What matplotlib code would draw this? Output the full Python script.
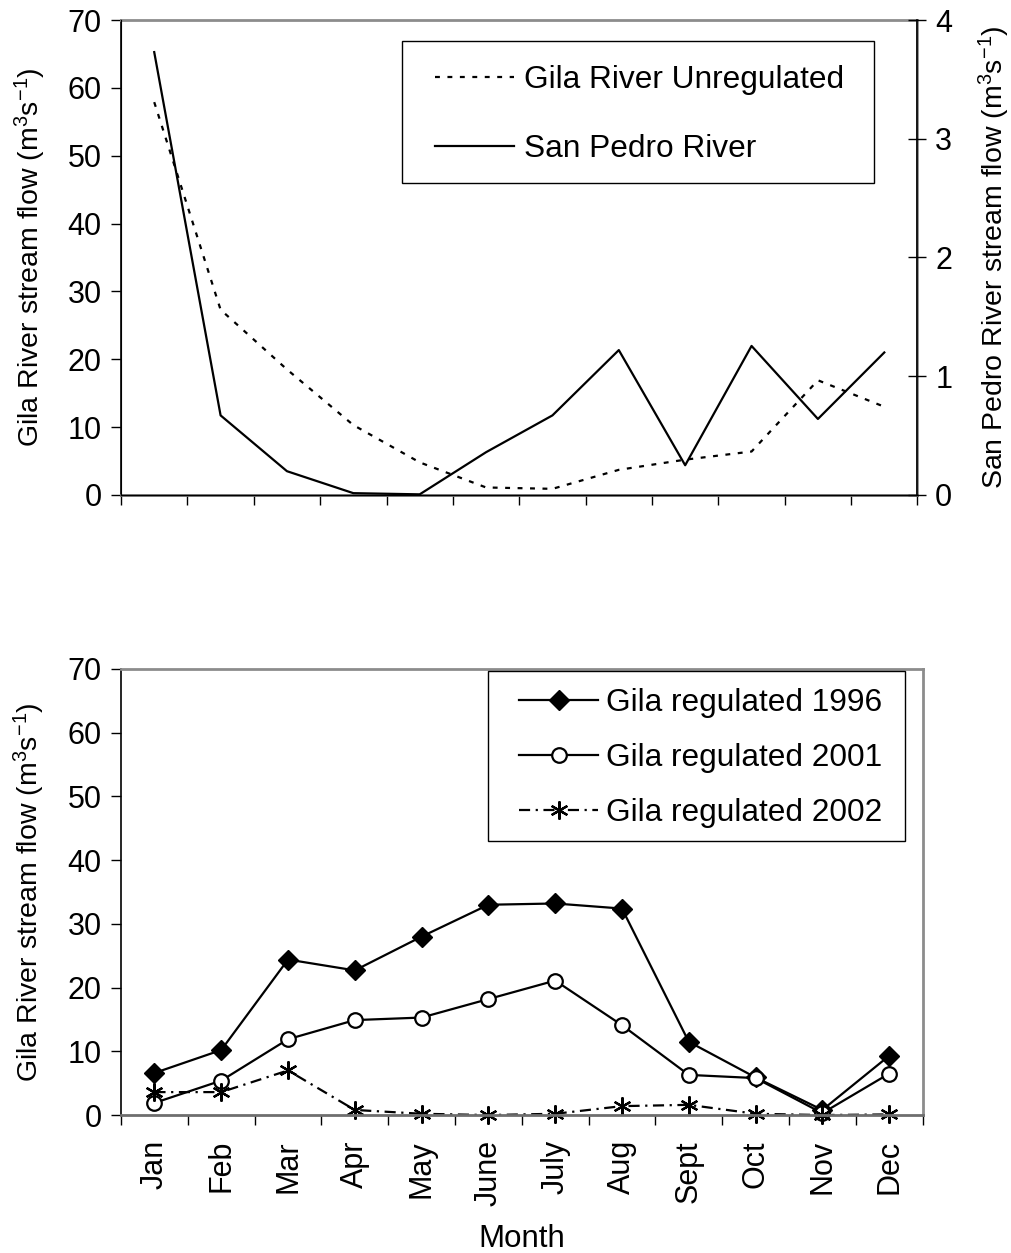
import matplotlib
matplotlib.use('Agg')
import matplotlib.pyplot as plt
import numpy as np
from matplotlib.patches import Rectangle

plt.rcParams['font.family'] = ['Liberation Sans', 'DejaVu Sans']
plt.rcParams['mathtext.default'] = 'regular'

months = ['Jan', 'Feb', 'Mar', 'Apr', 'May', 'June', 'July', 'Aug', 'Sept', 'Oct', 'Nov', 'Dec']

# top panel: unregulated Gila (left axis) and San Pedro (right axis)
gila_unreg = [57.9, 27.3, 18.5, 10.3, 4.8, 1.1, 0.9, 3.7, 5.2, 6.4, 16.9, 13.0]
san_pedro = [3.73, 0.67, 0.20, 0.015, 0.005, 0.36, 0.67, 1.22, 0.25, 1.255, 0.64, 1.20]

# bottom panel: regulated Gila
gila_1996 = [6.6, 10.2, 24.4, 22.7, 28.0, 33.0, 33.2, 32.4, 11.5, 5.9, 0.8, 9.3]
gila_2001 = [1.9, 5.4, 11.9, 14.9, 15.3, 18.2, 21.1, 14.1, 6.3, 5.8, 0.3, 6.5]
gila_2002 = [3.6, 3.6, 7.0, 0.8, 0.2, 0.0, 0.2, 1.4, 1.6, 0.2, 0.0, 0.1]

x = np.arange(len(months))
edges = np.arange(len(months) + 1) - 0.5

tick_fs = 22
lab_fs = 20.5
leg_fs = 22.8
lw = 1.6
ylab = r'Gila River stream flow (m$^{3}$s$^{-1}$)'

fig = plt.figure(figsize=(10.12, 12.53), dpi=100)
ax1 = fig.add_axes([0.1196, 0.605, 0.787, 0.379])
ax2 = ax1.twinx()
ax3 = fig.add_axes([0.1196, 0.1101, 0.792, 0.356])


def style_frame(ax):
    ax.spines['top'].set_color('#8c8c8c')
    ax.spines['top'].set_linewidth(2)
    ax.spines['right'].set_color('#8c8c8c')
    ax.spines['right'].set_linewidth(2)
    ax.spines['bottom'].set_color('#6e6e6e')
    ax.spines['bottom'].set_linewidth(2)
    ax.spines['left'].set_color('black')
    ax.spines['left'].set_linewidth(1.2)
    ax.set_xlim(-0.5, 11.5)
    ax.set_ylim(0, 70)
    ax.set_yticks(np.arange(0, 71, 10))
    ax.set_xticks(edges)
    ax.set_xticklabels([])
    ax.tick_params(axis='y', direction='out', length=7, width=1, labelsize=tick_fs, pad=7)
    ax.tick_params(axis='x', which='major', direction='out', length=7.5, width=1)


# ---- top panel ----
style_frame(ax1)
ax1.plot(x, gila_unreg, color='black', lw=lw, linestyle=(0, (2.2, 3.4)),
         label='Gila River Unregulated', clip_on=False)
ax2.plot(x, san_pedro, color='black', lw=lw, label='San Pedro River', clip_on=False)
ax2.set_ylim(0, 4)
ax2.set_yticks([0, 1, 2, 3, 4])
ax2.spines['right'].set_color('black')
ax2.spines['right'].set_linewidth(1.2)
ax2.spines['top'].set_visible(False)
ax2.tick_params(axis='y', direction='inout', length=13.5, width=1, labelsize=tick_fs, pad=6)
ax1.set_ylabel(ylab, fontsize=lab_fs)
ax1.yaxis.set_label_coords(-0.092, 0.5)
ax2.set_ylabel(r'San Pedro River stream flow (m$^{3}$s$^{-1}$)', fontsize=lab_fs)
ax2.yaxis.set_label_coords(1.074, 0.5)

ax2.add_patch(Rectangle((0.3528, 0.6568), 0.5926, 0.299, transform=ax2.transAxes,
                        facecolor='white', edgecolor='black', lw=1, zorder=4))
h1, l1 = ax1.get_legend_handles_labels()
h2, l2 = ax2.get_legend_handles_labels()
leg1 = ax2.legend(h1 + h2, l1 + l2, loc='upper left', bbox_to_anchor=(0.394, 0.905),
                  frameon=False, fontsize=leg_fs, borderpad=0, borderaxespad=0,
                  handlelength=2.5, handletextpad=0.3, labelspacing=1.22)
leg1.set_zorder(5)

# ---- bottom panel ----
style_frame(ax3)
ax3.plot(x, gila_1996, color='black', lw=lw, marker='D', ms=10, mfc='black', mec='black',
         label='Gila regulated 1996', clip_on=False)
ax3.plot(x, gila_2001, color='black', lw=lw, marker='o', ms=10.5, mfc='white', mec='black',
         mew=1.6, label='Gila regulated 2001', clip_on=False)
ax3.plot(x, gila_2002, color='black', lw=lw, linestyle=(0, (5, 2.5, 1, 2.5)),
         marker=(6, 2, 0), ms=13, mec='black', mew=1.6,
         label='Gila regulated 2002', clip_on=False)
ax3.set_xticks(x, minor=True)
ax3.set_xticklabels(months, minor=True, rotation=90, fontsize=22)
ax3.tick_params(axis='x', which='minor', length=0, pad=18)
ax3.set_ylabel(ylab, fontsize=lab_fs)
ax3.yaxis.set_label_coords(-0.092, 0.5)
ax3.set_xlabel('Month', fontsize=22.5)
ax3.xaxis.set_label_coords(0.5, -0.245)

ax3.add_patch(Rectangle((0.4578, 0.6143), 0.5201, 0.3819, transform=ax3.transAxes,
                        facecolor='white', edgecolor='black', lw=1, zorder=4))
leg2 = ax3.legend(loc='upper left', bbox_to_anchor=(0.4965, 0.958),
                  frameon=False, fontsize=leg_fs, borderpad=0, borderaxespad=0,
                  handlelength=2.5, handletextpad=0.25, labelspacing=0.80)
leg2.set_zorder(5)

fig.savefig('out.png', dpi=100)
